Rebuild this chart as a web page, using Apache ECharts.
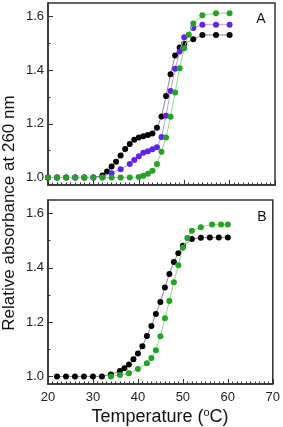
<!DOCTYPE html>
<html>
<head>
<meta charset="utf-8">
<script src="https://cdn.jsdelivr.net/npm/echarts@6/dist/echarts.min.js"></script>
<style>
html,body{margin:0;padding:0;background:#fff;}
#chart{width:283px;height:427px;}
</style>
</head>
<body>
<div id="chart"></div>
<script>
// Panel A
var tempA_black = [20,22,24,26,28,30,32,33,34,35,36,37,38,39,40,41,42,43,44,45,46,47,48,49,50,52,54,57,60];
var valA_black  = [1.0,1.0,1.0,1.0,1.0,1.0,1.007,1.022,1.041,1.059,1.082,1.106,1.125,1.141,1.149,1.154,1.158,1.164,1.185,1.227,1.304,1.385,1.454,1.484,1.498,1.515,1.531,1.531,1.531];
var tempA_purple = [20,22,24,26,28,30,32,34,36,38,39,40,41,42,43,44,45,46,47,48,49,50,52,54,57,60];
var valA_purple  = [1.0,1.0,1.0,1.0,1.0,1.0,1.0,1.016,1.031,1.05,1.065,1.079,1.092,1.098,1.105,1.113,1.151,1.23,1.322,1.405,1.469,1.522,1.557,1.569,1.569,1.569];
var tempA_green = [20,22,24,26,28,30,32,34,36,38,40,41,42,43,44,45,46,47,48,49,50,51,52,54,57,60];
var valA_green  = [1.0,1.0,1.0,1.0,1.0,1.0,1.0,1.0,1.0,1.0,1.002,1.006,1.014,1.025,1.05,1.096,1.149,1.226,1.317,1.407,1.481,1.532,1.574,1.604,1.612,1.612];
// Panel B
var tempB_black = [22,24,26,28,30,32,34,36,37,38,39,40,41,42,43,44,45,46,47,48,49,50,52,54,56,58,60];
var valB_black  = [1.0,1.0,1.0,1.0,1.0,1.0,1.007,1.02,1.03,1.044,1.063,1.084,1.111,1.149,1.186,1.23,1.274,1.328,1.377,1.422,1.454,1.481,1.506,1.511,1.512,1.512,1.512];
var tempB_green = [34,36,38,40,42,43,44,45,46,47,48,49,50,51,52,54,56.5,58.5,60];
var valB_green  = [1.0,1.005,1.012,1.027,1.048,1.068,1.096,1.148,1.214,1.278,1.347,1.41,1.474,1.51,1.537,1.55,1.56,1.56,1.56];
// Axes
var xTicks = [20,30,40,50,60,70];
var yMajor = [1.0,1.2,1.4,1.6];
var yMinor = [1.1,1.3,1.5];

function zip(a,b){return a.map(function(v,i){return [v,b[i]];});}

var FONT = '"Liberation Sans", Arial, Helvetica, sans-serif';
var AX = '#333';

function makeX(idx, showLabels){
  return {
    type:'value', gridIndex:idx, min:xTicks[0], max:xTicks[xTicks.length-1], interval:10,
    axisLine:{show:true, lineStyle:{color:AX, width:1.5}},
    axisTick:{show:true, inside:true, length:5, lineStyle:{color:AX, width:1}},
    minorTick:{show:true, splitNumber:10, length:2.5, lineStyle:{color:AX, width:1}},
    splitLine:{show:false}, minorSplitLine:{show:false},
    axisLabel:{show:showLabels, fontSize:13, color:'#222', fontFamily:FONT, margin:7}
  };
}
function makeY(idx){
  return {
    type:'value', gridIndex:idx, min:0.972, max:1.65,
    axisLine:{show:true, lineStyle:{color:AX, width:1.5}},
    axisTick:{show:true, inside:true, length:5, customValues:yMajor, lineStyle:{color:AX, width:1}},
    splitLine:{show:false},
    axisLabel:{show:true, customValues:yMajor, fontSize:13, color:'#222', fontFamily:FONT, margin:4,
      formatter:function(v){return Number(v).toFixed(1);}}
  };
}
function makeYMinor(idx){
  return {
    type:'value', gridIndex:idx, min:0.972, max:1.65, position:'left',
    axisLine:{show:false},
    axisTick:{show:true, inside:true, length:2.5, customValues:yMinor, lineStyle:{color:AX, width:1}},
    splitLine:{show:false},
    axisLabel:{show:false}
  };
}
function ser(xi, yi, data, pc, lc, z){
  return {
    type:'line', xAxisIndex:xi, yAxisIndex:yi, data:data, symbol:'circle', symbolSize:6,
    showSymbol:true, z:z,
    itemStyle:{color:pc, borderWidth:0},
    lineStyle:{color:lc, width:1},
    emphasis:{disabled:true}
  };
}

var BLACK='#000000', BLACK_L='#8a8a8a';
var PURP='#6322ea', PURP_L='#b5a0f2';
var GREEN='#22a322', GREEN_L='#92d892';

var chart = echarts.init(document.getElementById('chart'), null, {renderer:'canvas'});
chart.setOption({
  animation:false,
  backgroundColor:'#fff',
  grid:[
    {left:48, right:8, top:3, height:182, show:true, borderColor:AX, borderWidth:1.5, backgroundColor:'transparent'},
    {left:48, right:8, top:200, height:184, show:true, borderColor:AX, borderWidth:1.5, backgroundColor:'transparent'}
  ],
  xAxis:[makeX(0,false), makeX(1,true)],
  yAxis:[makeY(0), makeY(1), makeYMinor(0), makeYMinor(1)],
  series:[
    ser(0,0,zip(tempA_black,valA_black),BLACK,BLACK_L,2),
    ser(0,0,zip(tempA_purple,valA_purple),PURP,PURP_L,3),
    ser(0,0,zip(tempA_green,valA_green),GREEN,GREEN_L,4),
    ser(1,1,zip(tempB_black,valB_black),BLACK,BLACK_L,2),
    ser(1,1,zip(tempB_green,valB_green),GREEN,GREEN_L,3)
  ],
  graphic:[
    {type:'text', x:9, y:213, rotation:Math.PI/2,
      style:{text:'Relative absorbance at 260 nm', x:0, y:0, fill:'#111', font:'17px '+FONT, textAlign:'center', textVerticalAlign:'middle'}},
    {type:'text', x:160, y:417,
      style:{text:'{a|Temperature (}{s|o}{a|C)}', x:0, y:0, fill:'#111', textAlign:'center', textVerticalAlign:'middle',
        rich:{a:{fontSize:18, fontFamily:FONT, fill:'#111', lineHeight:20}, s:{fontSize:11, fontFamily:FONT, fill:'#111', verticalAlign:'top', lineHeight:20}}}},
    {type:'text', x:261, y:19, style:{text:'A', x:0, y:0, fill:'#111', font:'14px '+FONT, textAlign:'center', textVerticalAlign:'middle'}},
    {type:'text', x:262, y:217, style:{text:'B', x:0, y:0, fill:'#111', font:'14px '+FONT, textAlign:'center', textVerticalAlign:'middle'}}
  ]
});
</script>
</body>
</html>
